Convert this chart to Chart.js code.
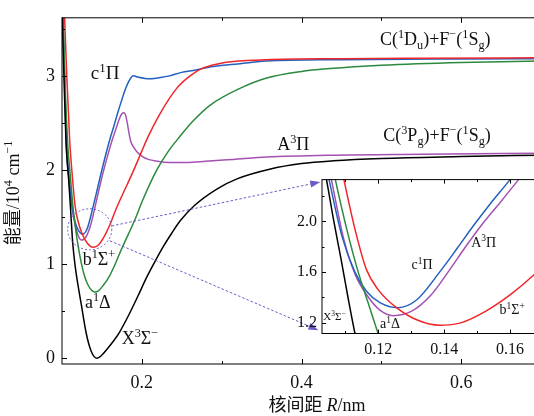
<!DOCTYPE html>
<html>
<head>
<meta charset="utf-8">
<script src="https://cdn.jsdelivr.net/npm/chart.js@4.4.0/dist/chart.umd.min.js"></script>
<style>
html, body { margin: 0; padding: 0; background: #fff; overflow: hidden; }
#wrap { position: relative; width: 534px; height: 416px; overflow: hidden; }
#main { position: absolute; left: 0; top: 0; }
#inset { position: absolute; left: 280px; top: 165px; }
</style>
</head>
<body>
<div id="wrap">
  <canvas id="main" width="560" height="416"></canvas>
  <canvas id="inset" width="280" height="200"></canvas>
</div>
<script>
// ---- main panel curves (R in nm, E in 10^4 cm^-1) ----
var X3R = [0.0995,0.1000,0.1025,0.1050,0.1085,0.1110,0.1135,0.1165,0.1200,0.1242,0.1304,0.1367,0.1438,0.1500,0.1576,0.1650,0.1722,0.1830,0.1950,0.2060,0.2165,0.2270,0.2374,0.2478,0.2666,0.2940,0.3200,0.3600,0.4000,0.4400,0.5000,0.6000,0.7000];
var X3E = [4.0,3.75,2.98,2.30,1.88,1.55,1.22,0.98,0.78,0.57,0.264,0.073,0.0,0.035,0.11,0.19,0.28,0.45,0.66,0.86,1.03,1.19,1.33,1.46,1.63,1.80,1.91,2.01,2.07,2.10,2.125,2.145,2.16];

var a1R = [0.1000,0.1008,0.1035,0.1070,0.1105,0.1139,0.1170,0.1205,0.1240,0.1280,0.1320,0.1365,0.1410,0.1460,0.1520,0.1580,0.1660,0.1747,0.1914,0.2010,0.2186,0.2331,0.2478,0.2650,0.2853,0.3229,0.3563,0.4000,0.4356,0.5000,0.6000,0.7000];
var a1E = [4.1,3.8,3.0,2.30,1.93,1.60,1.38,1.18,1.02,0.88,0.79,0.73,0.705,0.72,0.78,0.853,0.99,1.164,1.476,1.68,2.0,2.20,2.36,2.53,2.69,2.87,2.98,3.05,3.08,3.115,3.145,3.16];

var b1R = [0.1015,0.1025,0.1060,0.1096,0.1130,0.1164,0.1200,0.1255,0.1320,0.1386,0.1450,0.1528,0.1600,0.1671,0.1747,0.1893,0.1998,0.2080,0.2227,0.2436,0.2600,0.2750,0.2950,0.3145,0.3563,0.4500,0.5500,0.7000];
var b1E = [4.0,3.8,3.0,2.32,1.93,1.62,1.46,1.32,1.22,1.181,1.20,1.295,1.42,1.575,1.72,1.99,2.20,2.36,2.60,2.87,3.00,3.08,3.13,3.155,3.175,3.185,3.19,3.195];

var c1R = [0.0998,0.1005,0.1030,0.1051,0.1090,0.1129,0.1164,0.1205,0.1260,0.1316,0.1386,0.1440,0.1487,0.1540,0.1598,0.1650,0.1705,0.1750,0.1789,0.1840,0.1893,0.1950,0.2040,0.2123,0.2230,0.2331,0.2500,0.2645,0.2812,0.3200,0.3563,0.4500,0.6000,0.7000];
var c1E = [4.0,3.8,3.0,2.324,1.88,1.60,1.45,1.36,1.32,1.38,1.60,1.79,1.96,2.14,2.324,2.47,2.63,2.75,2.85,2.95,3.005,2.99,2.975,2.972,2.985,3.0,3.04,3.06,3.09,3.13,3.16,3.175,3.183,3.186];

var A3R = [0.1002,0.1008,0.1032,0.1058,0.1095,0.1130,0.1165,0.1205,0.1245,0.1300,0.1360,0.1417,0.1465,0.1513,0.1570,0.1625,0.1680,0.1720,0.1750,0.1776,0.1798,0.1818,0.1838,0.1860,0.1893,0.1935,0.2000,0.2080,0.2200,0.2331,0.2562,0.2800,0.3145,0.3563,0.4356,0.5500,0.7000];
var A3E = [4.0,3.75,3.0,2.32,1.86,1.58,1.42,1.30,1.257,1.29,1.42,1.62,1.80,1.97,2.15,2.31,2.45,2.55,2.60,2.61,2.58,2.50,2.40,2.31,2.25,2.20,2.15,2.115,2.095,2.083,2.083,2.095,2.115,2.14,2.16,2.17,2.18];

// ---- inset (zoom of the well region) ----
var zX3R = [0.1037,0.1043,0.1065,0.1087,0.1108,0.1129,0.1135];
var zX3E = [2.40,2.324,2.00,1.70,1.40,1.118,1.05];
var za1R = [0.1064,0.1070,0.1105,0.1139,0.1170,0.1199,0.1208];
var za1E = [2.40,2.324,1.93,1.60,1.35,1.118,1.05];
var zb1R = [0.1090,0.1096,0.1130,0.1164,0.1200,0.1255,0.1320,0.1386,0.1450,0.1528,0.1600,0.1671,0.1700];
var zb1E = [2.40,2.324,1.93,1.62,1.46,1.32,1.22,1.181,1.20,1.295,1.42,1.575,1.65];
var zc1R = [0.1045,0.1051,0.1090,0.1129,0.1164,0.1205,0.1260,0.1316,0.1386,0.1440,0.1487,0.1540,0.1598,0.1620];
var zc1E = [2.40,2.324,1.88,1.60,1.45,1.36,1.32,1.38,1.60,1.79,1.96,2.14,2.324,2.40];
var zA3R = [0.1052,0.1058,0.1095,0.1130,0.1165,0.1205,0.1245,0.1300,0.1360,0.1417,0.1465,0.1513,0.1570,0.1624,0.1648];
var zA3E = [2.40,2.324,1.86,1.58,1.42,1.30,1.257,1.29,1.42,1.62,1.80,1.97,2.15,2.324,2.40];

// ticks
var xMajor = [0.2, 0.4, 0.6], xMinor = [0.3, 0.5, 0.7];
var yMajor = [0, 1, 2, 3], yMinor = [0.5, 1.5, 2.5, 3.5];
var zxMajor = [0.12, 0.14, 0.16], zxMinor = [0.11, 0.13, 0.15, 0.17];
var zyMajor = [1.2, 1.6, 2.0], zyMinor = [1.4, 1.8, 2.2];

var colors = { X3: '#000000', a1: '#2b8a3e', b1: '#f0262a', c1: '#2360bf', A3: '#a452b2' };
var SERIF = '"Liberation Serif", "DejaVu Serif", serif';
var CJK = '"Noto Sans CJK SC", sans-serif';

function pts(R, E) { return R.map(function (r, i) { return { x: r, y: E[i] }; }); }
function line(R, E, c) {
  return { data: pts(R, E), borderColor: c, borderWidth: 1.5, pointRadius: 0, showLine: true,
           cubicInterpolationMode: 'monotone', fill: false };
}

// text with super/subscripts: [text, '^'|'_'|'', 'it'|'cjk'|'']
function drawRich(ctx, parts, x, y, size, align) {
  var segs = parts.map(function (p) {
    var small = p[1] === '^' || p[1] === '_';
    var fs = small ? size * 0.68 : size;
    var fam = p[2] === 'cjk' ? CJK : SERIF;
    var st = p[2] === 'it' ? 'italic ' : '';
    return { t: p[0], font: st + fs + 'px ' + fam, dy: p[1] === '^' ? -size * 0.38 : (p[1] === '_' ? size * 0.2 : 0) };
  });
  var w = 0;
  segs.forEach(function (s) { ctx.font = s.font; s.w = ctx.measureText(s.t).width; w += s.w; });
  if (align === 'center') x -= w / 2;
  ctx.textBaseline = 'alphabetic';
  ctx.textAlign = 'left';
  segs.forEach(function (s) { ctx.font = s.font; ctx.fillText(s.t, x, y + s.dy); x += s.w; });
}

var framePlugin = {
  id: 'frame',
  afterDraw: function (chart, args, o) {
    var ctx = chart.ctx, a = chart.chartArea, xs = chart.scales.x, ys = chart.scales.y;
    ctx.save();
    ctx.strokeStyle = '#000';
    ctx.lineWidth = 1;
    ctx.strokeRect(a.left, a.top, a.right - a.left, a.bottom - a.top);
    ctx.beginPath();
    function xt(v, len) {
      var p = Math.round(xs.getPixelForValue(v)) + 0.5;
      ctx.moveTo(p, a.bottom); ctx.lineTo(p, a.bottom - len);
      ctx.moveTo(p, a.top); ctx.lineTo(p, a.top + len);
    }
    function yt(v, len) {
      var p = Math.round(ys.getPixelForValue(v)) + 0.5;
      ctx.moveTo(a.left, p); ctx.lineTo(a.left + len, p);
      ctx.moveTo(a.right, p); ctx.lineTo(a.right - len, p);
    }
    o.xMajor.forEach(function (v) { xt(v, o.major); });
    o.xMinor.forEach(function (v) { xt(v, o.minor); });
    o.yMajor.forEach(function (v) { yt(v, o.major); });
    o.yMinor.forEach(function (v) { yt(v, o.minor); });
    ctx.stroke();
    ctx.fillStyle = '#111';
    (o.notes || []).forEach(function (n) {
      drawRich(ctx, n.parts, xs.getPixelForValue(n.at[0]), ys.getPixelForValue(n.at[1]), n.size, 'left');
    });
    if (o.titles) {
      drawRich(ctx, [['核间距 ', '', 'cjk'], ['R', '', 'it'], ['/nm', '', '']], a.left + 255, 411, 18, 'center');
      ctx.translate(19, (a.top + a.bottom) / 2 + 2);
      ctx.rotate(-Math.PI / 2);
      drawRich(ctx, [['能量', '', 'cjk'], ['/10', '', ''], ['4', '^', ''], [' cm', '', ''], ['−1', '^', '']], 0, 0, 18, 'center');
    }
    ctx.restore();
  }
};

// zoom marker (ellipse + two dashed arrows) on the main panel
var markerPlugin = {
  id: 'marker',
  afterDatasetsDraw: function (chart, args, o) {
    if (!o.ellipse) return;
    var ctx = chart.ctx, xs = chart.scales.x, ys = chart.scales.y;
    var e = o.ellipse;
    var cx = xs.getPixelForValue(e.c[0]), cy = ys.getPixelForValue(e.c[1]);
    var rx = xs.getPixelForValue(e.c[0] + e.r[0]) - cx, ry = cy - ys.getPixelForValue(e.c[1] + e.r[1]);
    ctx.save();
    ctx.strokeStyle = o.color; ctx.fillStyle = o.color; ctx.lineWidth = 1;
    ctx.setLineDash([2, 2]);
    ctx.beginPath(); ctx.ellipse(cx, cy, rx, ry, 0, 0, Math.PI * 2); ctx.stroke();
    o.arrows.forEach(function (ar) {
      var x0 = xs.getPixelForValue(ar[0][0]), y0 = ys.getPixelForValue(ar[0][1]);
      var x1 = xs.getPixelForValue(ar[1][0]), y1 = ys.getPixelForValue(ar[1][1]);
      var ang = Math.atan2(y1 - y0, x1 - x0), hl = 10, hw = 3.5;
      var bx = x1 - hl * Math.cos(ang), by = y1 - hl * Math.sin(ang);
      ctx.setLineDash([2.5, 2]);
      ctx.beginPath(); ctx.moveTo(x0, y0); ctx.lineTo(bx, by); ctx.stroke();
      ctx.setLineDash([]);
      ctx.beginPath();
      ctx.moveTo(x1, y1);
      ctx.lineTo(bx + hw * Math.sin(ang), by - hw * Math.cos(ang));
      ctx.lineTo(bx - hw * Math.sin(ang), by + hw * Math.cos(ang));
      ctx.closePath(); ctx.fill();
    });
    ctx.restore();
  }
};

function axes(xmin, xmax, ymin, ymax, xt, yt, xdig, ydig, fs, yw, xh, xpad, ypad) {
  return {
    x: { type: 'linear', min: xmin, max: xmax,
         grid: { display: false, drawTicks: false }, border: { display: false },
         ticks: { font: { family: SERIF, size: fs }, color: '#111', padding: xpad,
                  callback: function (v) { return v.toFixed(xdig); } },
         afterBuildTicks: function (s) { s.ticks = xt.map(function (v) { return { value: v }; }); },
         afterFit: function (s) { s.height = xh; } },
    y: { type: 'linear', min: ymin, max: ymax,
         grid: { display: false, drawTicks: false }, border: { display: false },
         ticks: { font: { family: SERIF, size: fs }, color: '#111', padding: ypad,
                  callback: function (v) { return v.toFixed(ydig); } },
         afterBuildTicks: function (s) { s.ticks = yt.map(function (v) { return { value: v }; }); },
         afterFit: function (s) { s.width = yw; } }
  };
}

var common = { responsive: false, animation: false, events: [], devicePixelRatio: 1 };

new Chart(document.getElementById('main'), {
  type: 'scatter',
  data: { datasets: [
    line(X3R, X3E, colors.X3), line(a1R, a1E, colors.a1), line(b1R, b1E, colors.b1),
    line(c1R, c1E, colors.c1), line(A3R, A3E, colors.A3)
  ] },
  options: Object.assign({}, common, {
    layout: { padding: { left: 0, right: 19, top: 11, bottom: 0 } },
    scales: axes(0.1, 0.7, -0.06, 3.62, xMajor, yMajor, 1, 0, 18, 62, 52, 8, 7),
    plugins: {
      legend: { display: false }, tooltip: { enabled: false },
      frame: { xMajor: xMajor, xMinor: xMinor, yMajor: yMajor, yMinor: yMinor, major: 5, minor: 3, titles: true,
        notes: [
          { parts: [['c', ''], ['1', '^'], ['Π', '']], at: [0.136, 2.97], size: 19 },
          { parts: [['b', ''], ['1', '^'], ['Σ', ''], ['+', '^']], at: [0.126, 0.995], size: 18 },
          { parts: [['a', ''], ['1', '^'], ['Δ', '']], at: [0.1288, 0.537], size: 18 },
          { parts: [['X', ''], ['3', '^'], ['Σ', ''], ['−', '^']], at: [0.1748, 0.153], size: 18 },
          { parts: [['A', ''], ['3', '^'], ['Π', '']], at: [0.3696, 2.22], size: 18 },
          { parts: [['C(', ''], ['1', '^'], ['D', ''], ['u', '_'], [')+F', ''], ['−', '^'], ['(', ''], ['1', '^'], ['S', ''], ['g', '_'], [')', '']], at: [0.4983, 3.33], size: 18 },
          { parts: [['C(', ''], ['3', '^'], ['P', ''], ['g', '_'], [')+F', ''], ['−', '^'], ['(', ''], ['1', '^'], ['S', ''], ['g', '_'], [')', '']], at: [0.5024, 2.31], size: 18 }
        ] },
      marker: { color: '#6a5bc9', ellipse: { c: [0.1347, 1.372], r: [0.0276, 0.218] },
        arrows: [ [[0.1622, 1.407], [0.4235, 1.875]], [[0.1600, 1.250], [0.4212, 0.300]] ] }
    }
  }),
  plugins: [framePlugin, markerPlugin]
});

new Chart(document.getElementById('inset'), {
  type: 'scatter',
  data: { datasets: [
    line(zX3R, zX3E, colors.X3), line(za1R, za1E, colors.a1), line(zb1R, zb1E, colors.b1),
    line(zc1R, zc1E, colors.c1), line(zA3R, zA3E, colors.A3)
  ] },
  options: Object.assign({}, common, {
    layout: { padding: { left: 0, right: 17, top: 9.5, bottom: 0 } },
    scales: axes(0.1029, 0.17, 1.116, 2.33, zxMajor, zyMajor, 2, 1, 16, 42, 31.5, 7, 5),
    plugins: {
      legend: { display: false }, tooltip: { enabled: false },
      frame: { xMajor: zxMajor, xMinor: zxMinor, yMajor: zyMajor, yMinor: zyMinor, major: 4, minor: 2.5,
        notes: [
          { parts: [['c', ''], ['1', '^'], ['Π', '']], at: [0.1301, 1.625], size: 14 },
          { parts: [['A', ''], ['3', '^'], ['Π', '']], at: [0.1482, 1.80], size: 14 },
          { parts: [['b', ''], ['1', '^'], ['Σ', ''], ['+', '^']], at: [0.1568, 1.27], size: 14 },
          { parts: [['a', ''], ['1', '^'], ['Δ', '']], at: [0.1205, 1.156], size: 14 },
          { parts: [['X', ''], ['3', '^'], ['Σ', ''], ['−', '^']], at: [0.1033, 1.22], size: 11 }
        ] }
    }
  }),
  plugins: [framePlugin]
});
</script>
</body>
</html>
